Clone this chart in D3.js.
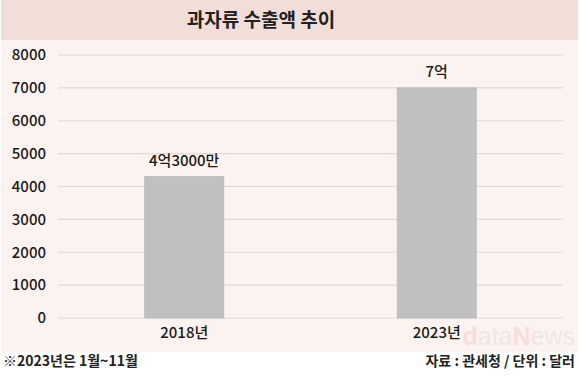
<!DOCTYPE html>
<html>
<head>
<meta charset="utf-8">
<script src="https://cdn.jsdelivr.net/npm/d3@7"></script>
<style>
  body { margin: 0; background: #fff; }
  svg { display: block; font-family: "Noto Sans CJK KR", sans-serif; }
</style>
</head>
<body>
<div id="chart"></div>
<script>
// data
const years = ['2018년', '2023년'];
const exports = [4300, 7000];
const valueLabels = ['4억3000만', '7억'];
const yTicks = [0, 1000, 2000, 3000, 4000, 5000, 6000, 7000, 8000];

const W = 580, H = 380;
const svg = d3.select('#chart').append('svg')
  .attr('width', W).attr('height', H);

// backgrounds
svg.append('rect').attr('x', 1).attr('y', 0).attr('width', W - 3).attr('height', 352)
  .attr('fill', '#fcf2ef');
svg.append('rect').attr('x', 1).attr('y', 0).attr('width', W - 3).attr('height', 40)
  .attr('fill', '#f1ded8');

svg.append('text')
  .attr('x', 261).attr('y', 27)
  .attr('text-anchor', 'middle')
  .attr('font-size', 19).attr('font-weight', 'bold').attr('fill', '#222')
  .text('과자류 수출액 추이');

const x = d3.scaleBand().domain(years).range([58, 563]).paddingInner(0.687).paddingOuter(0.3435);
const y = d3.scaleLinear().domain([0, 8000]).range([318, 55]);

// grid + y labels
const yAxis = d3.axisLeft(y).tickValues(yTicks).tickFormat(d3.format('d')).tickSize(0).tickPadding(12);
const gy = svg.append('g').attr('transform', 'translate(58,0)').call(yAxis);
gy.select('.domain').remove();
gy.selectAll('text').attr('font-size', 15).attr('font-weight', 500).attr('fill', '#1a1a1a')
  .attr('font-family', '"Noto Sans CJK KR", sans-serif');
svg.append('g').selectAll('line').data(yTicks).join('line')
  .attr('x1', 58).attr('x2', 563)
  .attr('y1', d => y(d)).attr('y2', d => y(d))
  .attr('stroke', '#dedad9').attr('stroke-width', 1.2);

// bars
svg.append('g').selectAll('rect').data(exports).join('rect')
  .attr('x', (d, i) => x(years[i]))
  .attr('y', d => y(d))
  .attr('width', x.bandwidth())
  .attr('height', d => y(0) - y(d))
  .attr('fill', '#c0c0c0')
  .attr('stroke', '#b8b8b8').attr('stroke-width', 0.8);

// value labels
svg.append('g').selectAll('text').data(exports).join('text')
  .attr('x', (d, i) => x(years[i]) + x.bandwidth() / 2)
  .attr('y', d => y(d) - 11)
  .attr('text-anchor', 'middle')
  .attr('font-size', 15).attr('font-weight', 500).attr('fill', '#1a1a1a')
  .text((d, i) => valueLabels[i]);

// watermark
const wm = svg.append('text').attr('x', 575).attr('y', 345)
  .attr('text-anchor', 'end').attr('font-size', 25).attr('font-weight', 'bold')
  .attr('font-family', 'Liberation Sans, sans-serif').attr('opacity', 0.35);
wm.append('tspan').attr('fill', '#f4b8b0').text('d');
wm.append('tspan').attr('fill', '#d8d0d0').attr('font-weight', 'normal').text('ata');
wm.append('tspan').attr('fill', '#f4b8b0').text('N');
wm.append('tspan').attr('fill', '#d8d0d0').attr('font-weight', 'normal').text('ews');

// x labels
const xAxis = d3.axisBottom(x).tickSize(0).tickPadding(9);
const gx = svg.append('g').attr('transform', 'translate(0,318)').call(xAxis);
gx.select('.domain').remove();
gx.selectAll('text').attr('font-size', 15).attr('font-weight', 500).attr('fill', '#1a1a1a')
  .attr('font-family', '"Noto Sans CJK KR", sans-serif');

// footer
svg.append('text').attr('x', 3).attr('y', 366)
  .attr('font-size', 14).attr('font-weight', 'bold').attr('fill', '#222')
  .text('※2023년은 1월~11월');
svg.append('text').attr('x', 575).attr('y', 366)
  .attr('text-anchor', 'end')
  .attr('font-size', 14).attr('font-weight', 'bold').attr('fill', '#222')
  .text('자료 : 관세청 / 단위 : 달러');
</script>
</body>
</html>
